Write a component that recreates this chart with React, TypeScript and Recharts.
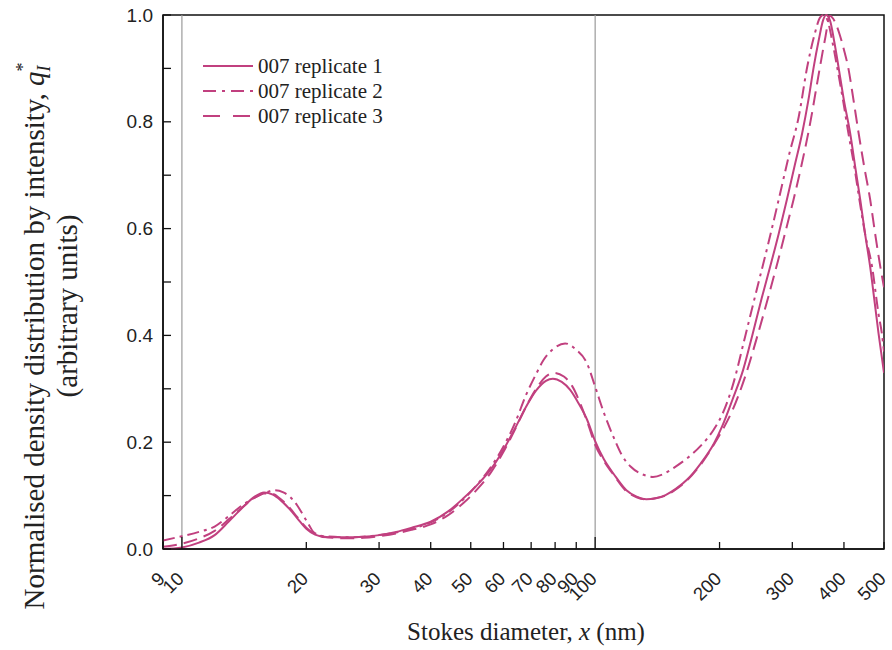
import React from 'react';
import { LineChart, Line, XAxis, YAxis, ReferenceLine, ReferenceArea } from 'recharts';

const X_TICKS = [9, 10, 20, 30, 40, 50, 60, 70, 80, 90, 100, 200, 300, 400, 500];
const Y_TICKS = [0, 0.1, 0.2, 0.3, 0.4, 0.5, 0.6, 0.7, 0.8, 0.9, 1.0];
const GUIDE_X = [10, 100];

const REP1_X = [9, 10, 11, 12, 13, 14, 15, 15.8, 16.6, 17.3, 18.2, 19, 20, 21, 22.5, 25, 27.5, 30, 33, 36, 40, 44, 48, 52, 56, 60, 64, 68, 72, 76, 79, 83, 87, 91, 95.5, 100, 105, 111, 119, 126, 133, 140, 148, 157, 167, 180, 194, 203, 215, 228, 240, 253, 265, 278, 291, 304, 317, 328, 338, 348, 356, 362, 370, 379, 388, 400, 414, 426, 438, 450, 463, 475, 485, 500];
const REP1_Y = [0.0, 0.003, 0.012, 0.026, 0.052, 0.077, 0.098, 0.106, 0.102, 0.092, 0.075, 0.058, 0.038, 0.027, 0.022, 0.022, 0.023, 0.026, 0.032, 0.040, 0.051, 0.070, 0.095, 0.121, 0.150, 0.186, 0.226, 0.266, 0.297, 0.315, 0.319, 0.313, 0.298, 0.274, 0.243, 0.202, 0.168, 0.140, 0.110, 0.098, 0.093, 0.095, 0.101, 0.113, 0.130, 0.160, 0.198, 0.230, 0.280, 0.335, 0.400, 0.470, 0.528, 0.590, 0.654, 0.718, 0.779, 0.840, 0.903, 0.955, 0.990, 1.0, 0.99, 0.95, 0.903, 0.84, 0.779, 0.715, 0.654, 0.59, 0.528, 0.46, 0.404, 0.33];

const REP2_X = [9, 10, 11, 12, 13, 14, 15, 16, 16.8, 17.6, 18.3, 19, 19.7, 20.3, 20.8, 22, 25, 27.5, 30, 33, 36, 40, 44, 48, 52, 56, 60, 64, 68, 72, 75, 79, 84.6, 90, 95.5, 100, 105, 111, 116, 122, 130, 138, 146, 155, 167, 180, 193, 203, 215, 231, 245, 262, 278, 295, 311, 326, 340, 350, 357, 365, 375, 385, 398, 410, 424, 436, 450, 468, 485, 494, 500];
const REP2_Y = [0.016, 0.024, 0.032, 0.042, 0.062, 0.082, 0.096, 0.106, 0.110, 0.106, 0.097, 0.082, 0.062, 0.045, 0.032, 0.024, 0.022, 0.023, 0.026, 0.031, 0.038, 0.050, 0.068, 0.093, 0.122, 0.154, 0.192, 0.236, 0.288, 0.328, 0.354, 0.374, 0.385, 0.373, 0.348, 0.304, 0.255, 0.208, 0.176, 0.154, 0.140, 0.135, 0.140, 0.152, 0.170, 0.193, 0.222, 0.252, 0.305, 0.400, 0.480, 0.570, 0.654, 0.740, 0.810, 0.903, 0.965, 0.995, 1.0, 0.99, 0.95, 0.903, 0.84, 0.779, 0.715, 0.654, 0.59, 0.528, 0.44, 0.404, 0.37];

const REP3_X = [9, 10, 11, 12, 13, 14, 15, 15.8, 16.6, 17.3, 18.2, 19, 20, 21, 22.5, 25, 27.5, 30, 33, 36, 40, 44, 48, 52, 56, 60, 64, 68, 72, 76, 79.3, 84, 88, 92, 96, 100, 105, 111, 119, 126, 133, 140, 148, 157, 167, 180, 194, 203, 215, 230, 248, 262, 277, 290, 302, 316, 330, 350, 360, 370, 380, 390, 400, 410, 422, 434, 448, 463, 476, 490, 500];
const REP3_Y = [0.004, 0.010, 0.020, 0.034, 0.056, 0.078, 0.096, 0.104, 0.103, 0.094, 0.078, 0.060, 0.040, 0.028, 0.022, 0.020, 0.021, 0.024, 0.029, 0.036, 0.046, 0.063, 0.086, 0.113, 0.144, 0.182, 0.224, 0.266, 0.300, 0.323, 0.330, 0.323, 0.305, 0.273, 0.235, 0.195, 0.165, 0.138, 0.108, 0.097, 0.093, 0.095, 0.100, 0.112, 0.129, 0.158, 0.196, 0.222, 0.260, 0.320, 0.404, 0.470, 0.540, 0.600, 0.654, 0.720, 0.790, 0.903, 0.955, 0.998, 0.988, 0.965, 0.935, 0.900, 0.84, 0.779, 0.715, 0.654, 0.59, 0.528, 0.49];

const SERIES_NAMES = ['007 replicate 1', '007 replicate 2', '007 replicate 3'];
const COLOR = '#c1407f';
const DASHES = [undefined, '12 5 3 5', '14 7'];
const LEGEND_DASHES = [undefined, '13 6 3 6', '17 13'];

const zip = (xs: number[], ys: number[]) => xs.map((x, i) => ({ x, y: ys[i] }));
const SERIES_DATA = [zip(REP1_X, REP1_Y), zip(REP2_X, REP2_Y), zip(REP3_X, REP3_Y)];

const SANS = '"Liberation Sans", Arial, sans-serif';
const SERIF = '"Liberation Serif", "Times New Roman", serif';

const YTick = (props: any) => {
  const { x, y, payload } = props;
  const v = payload.value as number;
  const major = Math.round(v * 10) % 2 === 0;
  return (
    <g>
      <line x1={x} x2={x + 8} y1={y} y2={y} stroke="#111" strokeWidth={1.3} />
      {major && (
        <text x={x - 10} y={y} textAnchor="end" dominantBaseline="central" fontSize={19} fontFamily={SANS} fill="#222">
          {v.toFixed(1)}
        </text>
      )}
    </g>
  );
};

const XTickBottom = (props: any) => {
  const { x, y, payload } = props;
  const v = payload.value as number;
  const len = v === 10 || v === 100 ? 12 : 7;
  return (
    <g>
      <line x1={x} x2={x} y1={y} y2={y - len} stroke="#111" strokeWidth={1.3} />
      <text transform={`translate(${x + 3},${y + 31}) rotate(-45)`} textAnchor="end" fontSize={18.5} fontFamily={SANS} fill="#222">
        {String(v)}
      </text>
    </g>
  );
};

const XTickTop = (props: any) => {
  const { x, y, payload } = props;
  const v = payload.value as number;
  const len = v === 10 || v === 100 ? 12 : 7;
  return <line x1={x} x2={x} y1={y} y2={y + len} stroke="#111" strokeWidth={1.3} />;
};

export default function App() {
  return (
    <div style={{ position: 'absolute', left: 0, top: 0, width: 892, height: 650, background: '#fff' }}>
      <LineChart width={892} height={650} margin={{ top: 15, right: 8, bottom: 0, left: 0 }}>
        <XAxis
          xAxisId="b"
          dataKey="x"
          type="number"
          scale="log"
          domain={[9, 500]}
          allowDataOverflow
          ticks={X_TICKS}
          interval={0}
          height={101}
          tickSize={0}
          tickMargin={0}
          tickLine={false}
          axisLine={{ stroke: '#111', strokeWidth: 1.5 }}
          tick={<XTickBottom />}
        />
        <XAxis
          xAxisId="t"
          orientation="top"
          dataKey="x"
          type="number"
          scale="log"
          domain={[9, 500]}
          allowDataOverflow
          ticks={X_TICKS}
          interval={0}
          height={0}
          tickSize={0}
          tickMargin={0}
          tickLine={false}
          axisLine={{ stroke: '#111', strokeWidth: 1.5 }}
          tick={<XTickTop />}
        />
        <YAxis
          yAxisId="l"
          type="number"
          domain={[0, 1]}
          ticks={Y_TICKS}
          interval={0}
          width={163}
          tickSize={0}
          tickMargin={0}
          tickLine={false}
          axisLine={{ stroke: '#111', strokeWidth: 1.5 }}
          tick={<YTick />}
        />
        <ReferenceArea xAxisId="b" yAxisId="l" x1={9} x2={500} y1={0} y2={1} fill="none" fillOpacity={0} stroke="#111" strokeWidth={1.5} ifOverflow="visible" />
        {GUIDE_X.map((gx) => (
          <ReferenceLine key={gx} xAxisId="b" yAxisId="l" x={gx} stroke="#9a9a9a" strokeWidth={1.2} />
        ))}
        {SERIES_DATA.map((d, i) => (
          <Line
            key={SERIES_NAMES[i]}
            xAxisId="b"
            yAxisId="l"
            data={d}
            dataKey="y"
            name={SERIES_NAMES[i]}
            type="monotone"
            stroke={COLOR}
            strokeWidth={2}
            strokeDasharray={DASHES[i]}
            dot={false}
            activeDot={false}
            isAnimationActive={false}
          />
        ))}
      </LineChart>
      <svg width={892} height={650} style={{ position: 'absolute', left: 0, top: 0, pointerEvents: 'none' }}>
        {SERIES_NAMES.map((name, i) => (
          <g key={name}>
            <line x1={203} x2={253} y1={66 + i * 25} y2={66 + i * 25} stroke={COLOR} strokeWidth={2} strokeDasharray={LEGEND_DASHES[i]} />
            <text x={258} y={66 + i * 25} dominantBaseline="central" fontSize={21} fontFamily={SERIF} fill="#222">
              {name}
            </text>
          </g>
        ))}
        <text transform="translate(44,336) rotate(-90)" textAnchor="middle" fontSize={29} fontFamily={SERIF} fill="#222">
          Normalised density distribution by intensity,{' '}
          <tspan fontStyle="italic">q</tspan>
          <tspan fontStyle="italic" fontSize={18} dy={6}>I</tspan>
          <tspan fontSize={18} dx={-6} dy={-21}>*</tspan>
        </text>
        <text transform="translate(77,306) rotate(-90)" textAnchor="middle" fontSize={29} fontFamily={SERIF} fill="#222">
          (arbitrary units)
        </text>
        <text x={526} y={640} textAnchor="middle" fontSize={25} fontFamily={SERIF} fill="#222">
          Stokes diameter, <tspan fontStyle="italic">x</tspan> (nm)
        </text>
      </svg>
    </div>
  );
}
